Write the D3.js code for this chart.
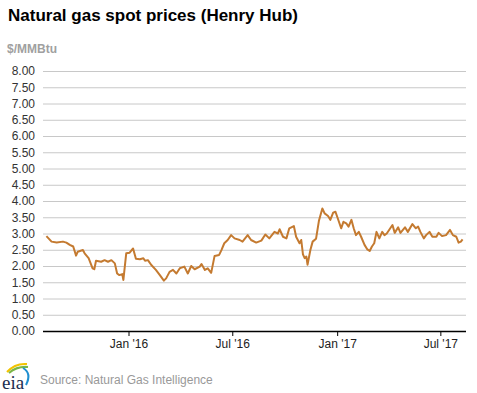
<!DOCTYPE html>
<html><head><meta charset="utf-8">
<script src="https://cdn.jsdelivr.net/npm/d3@7"></script>
<style>
body{margin:0;background:#fff;}
svg{display:block;font-family:"Liberation Sans",Arial,sans-serif;}
</style></head>
<body>
<svg id="c" width="477" height="393"></svg>
<script>
const title = "Natural gas spot prices (Henry Hub)";
const unitLabel = "$/MMBtu";
const source = "Source: Natural Gas Intelligence";
const yTicks = [0,0.5,1,1.5,2,2.5,3,3.5,4,4.5,5,5.5,6,6.5,7,7.5,8];
const xTickDates = ["2016-01-01","2016-07-01","2017-01-01","2017-07-01"];
const xTickLabels = ["Jan '16","Jul '16","Jan '17","Jul '17"];
const xDomain = ["2015-08-04","2017-08-15"];
const dates = [
"2015-08-10","2015-08-19","2015-08-28","2015-09-08","2015-09-14","2015-09-20","2015-09-26","2015-10-01","2015-10-04","2015-10-13",
"2015-10-16","2015-10-23","2015-10-30","2015-11-02","2015-11-05","2015-11-14","2015-11-20","2015-11-26","2015-12-02","2015-12-08",
"2015-12-12","2015-12-16","2015-12-21","2015-12-23","2015-12-28","2016-01-03","2016-01-09","2016-01-14","2016-01-21","2016-01-27",
"2016-01-30","2016-02-04","2016-02-10","2016-02-18","2016-02-25","2016-03-03","2016-03-07","2016-03-13","2016-03-19","2016-03-25",
"2016-03-31","2016-04-03","2016-04-05","2016-04-08","2016-04-14","2016-04-20","2016-04-26","2016-05-05","2016-05-08","2016-05-14",
"2016-05-19","2016-05-25","2016-05-31","2016-06-08","2016-06-12","2016-06-17","2016-06-23","2016-06-29","2016-07-05","2016-07-14",
"2016-07-19","2016-07-28","2016-08-03","2016-08-12","2016-08-21","2016-08-28","2016-09-04","2016-09-13","2016-09-19","2016-09-22",
"2016-09-28","2016-10-04","2016-10-09","2016-10-17","2016-10-21","2016-10-27","2016-10-30","2016-11-02","2016-11-05","2016-11-08",
"2016-11-10","2016-11-15","2016-11-19","2016-11-25","2016-11-30","2016-12-06","2016-12-10","2016-12-16","2016-12-20","2016-12-25",
"2016-12-29","2017-01-02","2017-01-08","2017-01-12","2017-01-17","2017-01-21","2017-01-26","2017-01-30","2017-02-03","2017-02-08",
"2017-02-12","2017-02-18","2017-02-23","2017-02-27","2017-03-03","2017-03-07","2017-03-11","2017-03-16","2017-03-21","2017-03-25",
"2017-03-29","2017-04-03","2017-04-08","2017-04-12","2017-04-18","2017-04-22","2017-04-30","2017-05-05","2017-05-13","2017-05-19",
"2017-05-23","2017-05-27","2017-06-02","2017-06-06","2017-06-12","2017-06-17","2017-06-24","2017-06-28","2017-07-04","2017-07-11",
"2017-07-18","2017-07-23","2017-07-29","2017-08-02","2017-08-06","2017-08-09"];
const prices = [
2.92,2.75,2.72,2.75,2.72,2.65,2.60,2.32,2.44,2.49,
2.39,2.24,1.93,1.90,2.16,2.13,2.18,2.13,2.18,2.08,
1.77,1.72,1.75,1.57,2.39,2.41,2.54,2.22,2.21,2.24,
2.16,2.18,2.03,1.88,1.72,1.55,1.62,1.82,1.88,1.77,
1.93,1.95,1.96,1.98,1.77,2.00,1.90,1.98,2.06,1.88,
1.93,1.79,2.31,2.34,2.49,2.70,2.80,2.95,2.85,2.80,
2.75,2.95,2.80,2.72,2.78,2.97,2.85,3.05,3.00,3.13,
2.90,2.85,3.16,3.23,2.90,2.70,2.80,2.36,2.24,2.29,
2.04,2.49,2.75,2.84,3.39,3.77,3.62,3.54,3.42,3.64,
3.67,3.47,3.16,3.36,3.31,3.21,3.42,3.16,2.95,3.05,
2.90,2.65,2.51,2.46,2.60,2.70,3.05,2.85,3.05,2.95,
3.00,3.13,3.26,3.02,3.19,3.02,3.19,3.05,3.29,3.16,
3.21,3.05,2.85,2.95,3.05,2.90,2.90,3.02,2.92,2.95,
3.11,2.95,2.90,2.72,2.75,2.82];

const parse = d3.timeParse("%Y-%m-%d");
const data = dates.map((d,i)=>({date:parse(d), v:prices[i]}));
const svg = d3.select("#c");
const L=43, R=466, T=71, B=331;
const x = d3.scaleTime().domain(xDomain.map(parse)).range([L,R]);
const y = d3.scaleLinear().domain([0,8]).range([B,T]);

svg.append("text").attr("x",8).attr("y",21).attr("font-size",17).attr("font-weight","bold").attr("fill","#000").text(title);
svg.append("text").attr("x",7).attr("y",53).attr("font-size",12).attr("font-weight","bold").attr("fill","#a0a0a0").text(unitLabel);

const ya = svg.append("g").attr("transform",`translate(${L},0)`)
  .call(d3.axisLeft(y).tickValues(yTicks).tickFormat(d3.format(".2f")).tickSize(-(R-L)).tickPadding(8));
ya.select(".domain").remove();
ya.selectAll(".tick line").attr("stroke",d=>d===0?"#000":"#c8c8c8").attr("stroke-width",d=>d===0?1.5:1);
ya.selectAll(".tick text").attr("font-size",12).attr("fill","#333").attr("font-family","Liberation Sans, Arial, sans-serif");

const xa = svg.append("g").attr("transform",`translate(0,${B})`)
  .call(d3.axisBottom(x).tickValues(xTickDates.map(parse)).tickFormat((d,i)=>xTickLabels[i]).tickSize(5).tickPadding(3));
xa.select(".domain").remove();
xa.selectAll(".tick line").attr("stroke","#000");
xa.selectAll(".tick text").attr("font-size",12).attr("fill","#222").attr("font-family","Liberation Sans, Arial, sans-serif");

svg.append("path").datum(data)
  .attr("fill","none").attr("stroke","#c47a30").attr("stroke-width",2).attr("stroke-linejoin","round")
  .attr("d",d3.line().x(d=>x(d.date)).y(d=>y(d.v)));

// eia logo
const lg = svg.append("g");
lg.append("path").attr("d","M7,372 Q15,363 27,364").attr("fill","none").attr("stroke","#f2c300").attr("stroke-width",2);
lg.append("path").attr("d","M9,373 Q17,366 28,367").attr("fill","none").attr("stroke","#7ab648").attr("stroke-width",2);
lg.append("path").attr("d","M23,368 Q32,373 26,385").attr("fill","none").attr("stroke","#1f8fd0").attr("stroke-width",2);
lg.append("text").attr("x",2).attr("y",389).attr("font-size",19).attr("font-family","Liberation Serif, serif").attr("fill","#1b2e50").text("eia");
svg.append("text").attr("x",40).attr("y",384).attr("font-size",12).attr("fill","#999").text(source);
</script>
</body></html>
